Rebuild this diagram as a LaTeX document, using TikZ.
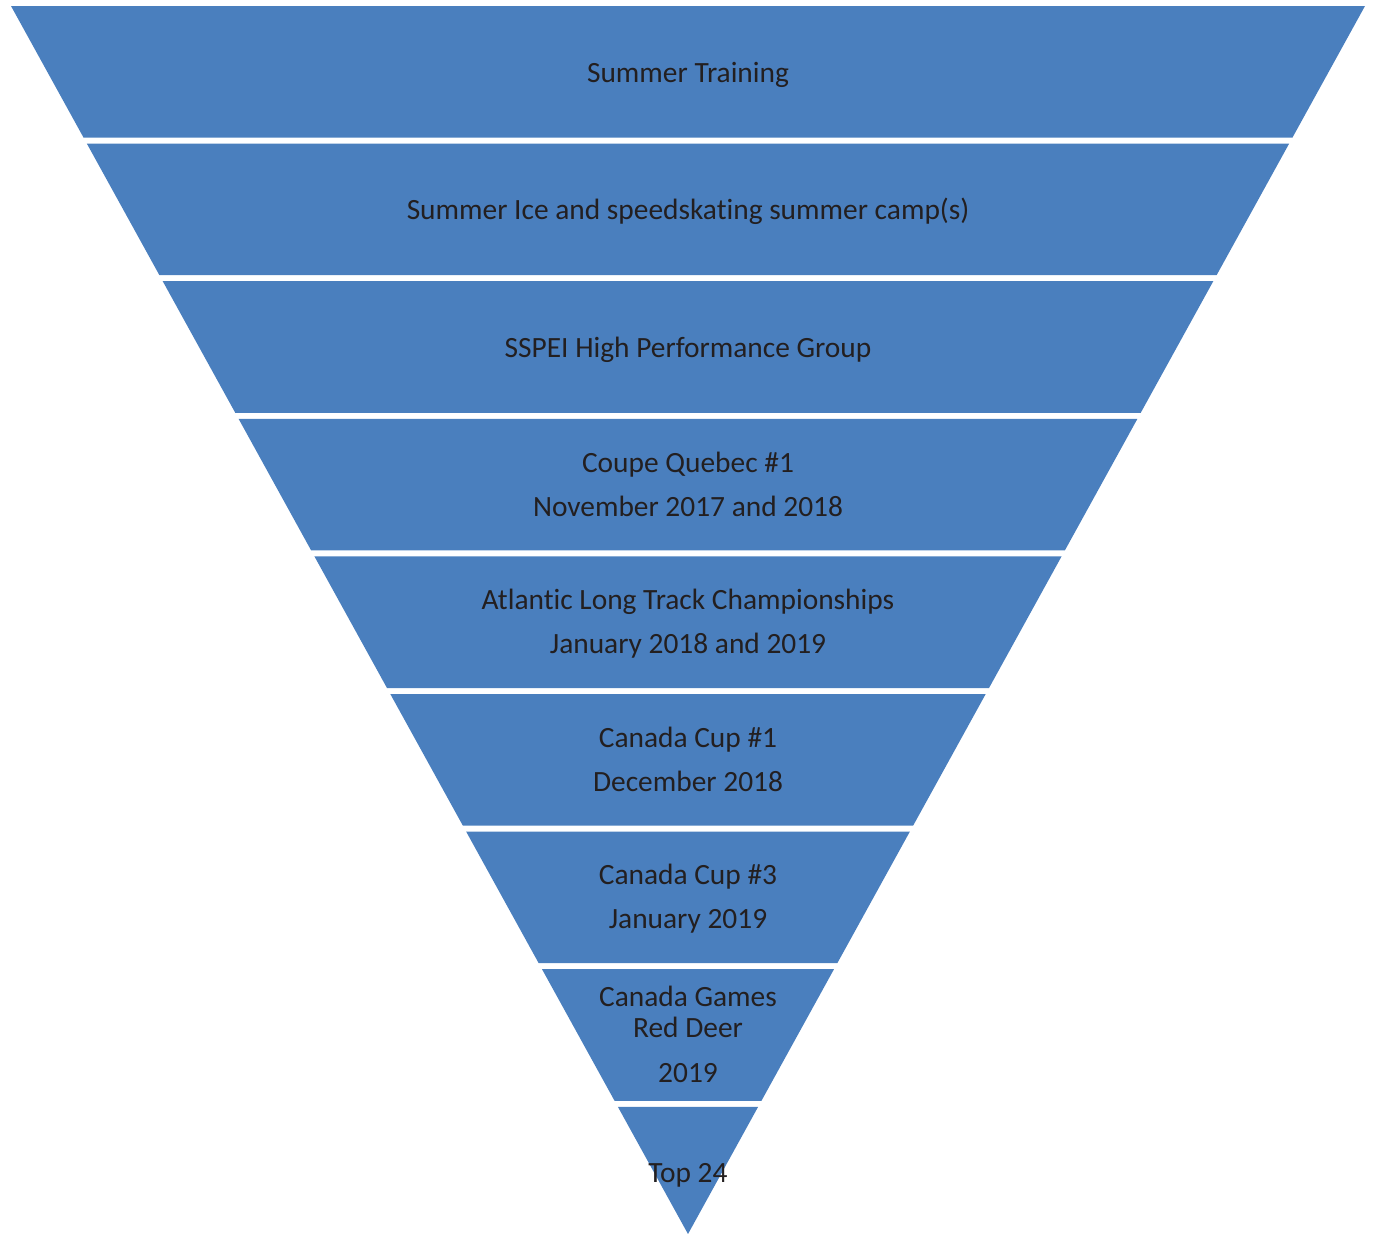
\documentclass[tikz,border=0pt]{standalone}
\usepackage{fontspec}
\setmainfont{Carlito}[Ligatures={NoCommon}]
\definecolor{bandblue}{HTML}{4A7FBE}
\definecolor{inkdark}{HTML}{231F20}
\begin{document}
\begin{tikzpicture}[x=1pt,y=-1pt,
  band/.style={fill=bandblue},
  lbl/.style={anchor=base,inner sep=0pt,text=inkdark,font=\fontsize{29.4}{31}\selectfont}]
\useasboundingbox (0,0) rectangle (1374,1234);
% nine stacked trapezoids of the inverted pyramid
\foreach \k in {0,...,8}{
  \pgfmathsetmacro\t{6+137.6*\k}
  \pgfmathsetmacro\b{min(\t+131.6,1234)}
  \pgfmathsetmacro\lt{11+0.5513*(\t-6)}
  \pgfmathsetmacro\lb{11+0.5513*(\b-6)}
  \pgfmathsetmacro\rt{1376-\lt}
  \pgfmathsetmacro\rb{1376-\lb}
  \fill[band] (\lt,\t) -- (\rt,\t) -- (\rb,\b) -- (\lb,\b) -- cycle;
}
% labels (baselines)
\node[lbl] (l1) at (688,82) {Summer Training};
\node[lbl] (l2) at (688,219.5) {Summer Ice and speedskating summer camp(s)};
\node[lbl] (l3) at (688,357) {SSPEI High Performance Group};
\node[lbl] (l4a) at (688,472) {Coupe Quebec \#1};
\node[lbl] (l4b) at (688,516) {November 2017 and 2018};
\node[lbl] (l5a) at (688,609.6) {Atlantic Long Track Championships};
\node[lbl] (l5b) at (688,653.6) {January 2018 and 2019};
\node[lbl] (l6a) at (688,747.2) {Canada Cup \#1};
\node[lbl] (l6b) at (688,791.2) {December 2018};
\node[lbl] (l7a) at (688,884.8) {Canada Cup \#3};
\node[lbl] (l7b) at (688,928.8) {January 2019};
\node[lbl] (l8a) at (688,1006.2) {Canada Games};
\node[lbl] (l8b) at (688,1037.5) {Red Deer};
\node[lbl] (l8c) at (688,1082.2) {2019};
\node[lbl] (l9) at (688,1182.2) {Top 24};
\end{tikzpicture}
\end{document}
